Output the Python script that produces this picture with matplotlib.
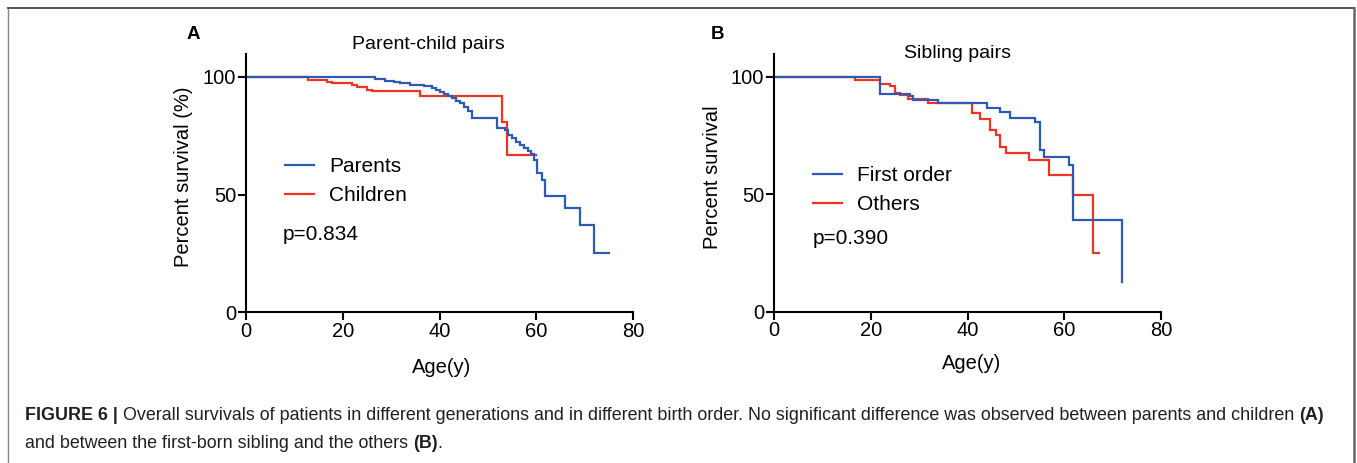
import matplotlib
matplotlib.use("Agg")
import matplotlib.pyplot as plt
from matplotlib.lines import Line2D

plt.rcParams['font.family'] = ['Liberation Sans', 'DejaVu Sans']

W, H = 1357, 463
BLUE = "#2B5BB5"
RED = "#EE3524"

# ---- Panel A: Parent-child pairs ----
parents_t = [0, 26.7, 28.8, 30.5, 31.9, 34.0, 36.7, 38.4, 39.3, 40.1, 41.0, 41.8, 42.6, 43.4,
             44.2, 45.0, 45.8, 46.7, 51.9, 53.5, 54.2, 55.0, 55.8, 56.6, 57.4, 58.2, 59.0,
             59.6, 60.2, 61.2, 61.9, 66.0, 69.0, 72.0]
parents_s = [100, 99.2, 98.5, 97.9, 97.3, 96.7, 96.0, 95.2, 94.5, 93.8, 92.9, 92.0, 91.0, 90.0,
             88.8, 87.3, 85.6, 82.6, 78.5, 77.5, 75.3, 74.0, 72.5, 71.0, 69.8, 68.3, 67.3,
             64.8, 59.1, 56.3, 49.2, 44.2, 37.1, 25.3]
parents_end = 75.0

children_t = [0, 12.9, 16.8, 17.7, 21.9, 22.9, 25.0, 26.0, 36.0, 52.9, 54.0]
children_s = [100, 98.9, 98.0, 97.3, 96.6, 95.7, 94.6, 93.9, 92.1, 80.7, 67.0]
children_end = 60.0

# ---- Panel B: Sibling pairs ----
first_t = [0, 22.0, 28.1, 28.8, 34.0, 44.0, 46.8, 48.8, 54.0, 54.9, 55.9, 60.9, 61.9, 71.9]
first_s = [100, 92.9, 91.8, 90.4, 89.0, 86.8, 85.1, 82.6, 80.9, 68.8, 66.0, 62.4, 39.0, 12.8]
first_end = 71.9

others_t = [0, 16.8, 22.0, 23.9, 25.0, 26.1, 27.8, 31.9, 40.9, 42.6, 44.7, 45.9, 46.8, 48.0,
            52.8, 56.8, 61.9, 65.9]
others_s = [100, 98.9, 97.2, 96.1, 93.2, 92.2, 90.8, 88.7, 84.7, 82.3, 77.3, 75.2, 70.2, 67.7,
            64.5, 58.2, 49.9, 25.1]
others_end = 67.1

x_ticks = [0, 20, 40, 60, 80]
y_ticks = [0, 50, 100]

fig = plt.figure(figsize=(W / 100, H / 100), dpi=100)


def px_axes(left, bottom_px, width, top_px):
    return fig.add_axes([left / W, 1 - bottom_px / H, width / W, (bottom_px - top_px) / H])


def step(ax, t, s, end, color):
    ax.plot(list(t) + [end], list(s) + [s[-1]], drawstyle='steps-post', color=color,
            lw=1.6, solid_joinstyle='miter', clip_on=False)


def style(ax):
    ax.set_xlim(0, 80)
    ax.set_ylim(0, 110)
    ax.set_xticks(x_ticks)
    ax.set_yticks(y_ticks)
    for sp in ['top', 'right']:
        ax.spines[sp].set_visible(False)
    for sp in ['left', 'bottom']:
        ax.spines[sp].set_linewidth(1.5)
    ax.tick_params(axis='both', direction='out', length=6, width=1.5, labelsize=14.5, pad=1)
    ax.patch.set_alpha(0)


axA = px_axes(246, 312, 387, 53.5)
style(axA)
step(axA, children_t, children_s, children_end, RED)
step(axA, parents_t, parents_s, parents_end, BLUE)
axA.set_ylabel("Percent survival (%)", fontsize=14.5)
axA.yaxis.set_label_coords(-0.137, 0.522)
axA.set_xlabel("Age(y)", fontsize=14.5)
axA.xaxis.set_label_coords(0.505, -0.178)
axA.text(0.47, 1.033, "Parent-child pairs", transform=axA.transAxes, ha='center', va='center', fontsize=14)
axA.text(-0.137, 1.072, "A", transform=axA.transAxes, ha='center', va='center', fontsize=13.5, fontweight='bold')
hA = [Line2D([], [], color=BLUE, lw=1.6), Line2D([], [], color=RED, lw=1.6)]
axA.legend(hA, ["Parents", "Children"], loc='upper left', bbox_to_anchor=(0.10, 0.60),
           frameon=False, fontsize=15, handlelength=1.4, handletextpad=0.75,
           borderpad=0, borderaxespad=0, labelspacing=0.5)
axA.text(0.096, 0.298, "p=0.834", transform=axA.transAxes, ha='left', va='center', fontsize=15)

axB = px_axes(774, 311.7, 387, 53.5)
style(axB)
step(axB, others_t, others_s, others_end, RED)
step(axB, first_t, first_s, first_end, BLUE)
axB.set_ylabel("Percent survival", fontsize=14.5)
axB.yaxis.set_label_coords(-0.134, 0.522)
axB.set_xlabel("Age(y)", fontsize=14.5)
axB.xaxis.set_label_coords(0.51, -0.164)
axB.text(0.475, 1.0, "Sibling pairs", transform=axB.transAxes, ha='center', va='center', fontsize=14)
axB.text(-0.145, 1.072, "B", transform=axB.transAxes, ha='center', va='center', fontsize=13.5, fontweight='bold')
hB = [Line2D([], [], color=BLUE, lw=1.6), Line2D([], [], color=RED, lw=1.6)]
axB.legend(hB, ["First order", "Others"], loc='upper left', bbox_to_anchor=(0.10, 0.564),
           frameon=False, fontsize=15, handlelength=1.4, handletextpad=0.75,
           borderpad=0, borderaxespad=0, labelspacing=0.5)
axB.text(0.10, 0.285, "p=0.390", transform=axB.transAxes, ha='left', va='center', fontsize=15)

# ---- frame ----
fig.add_artist(Line2D([8 / W, 8 / W], [0, 1 - 8 / H], color="#888888", lw=1.0))
fig.add_artist(Line2D([8 / W, 1354 / W], [1 - 8 / H, 1 - 8 / H], color="#555555", lw=1.4))
fig.add_artist(Line2D([1354 / W, 1354 / W], [0, 1 - 8 / H], color="#666666", lw=1.8))

# ---- caption ----
CAP = "#231f20"
cap_fs = 12.9
line1 = [("FIGURE 6 | ", 'bold'),
         ("Overall survivals of patients in different generations and in different birth order. "
          "No significant difference was observed between parents and children ", 'normal'),
         ("(A)", 'bold')]
line2 = [("and between the first-born sibling and the others ", 'normal'), ("(B)", 'bold'), (".", 'normal')]

fig.canvas.draw()
renderer = fig.canvas.get_renderer()


def place(pieces, x0, y0):
    x = x0
    for txt, wt in pieces:
        t = fig.text(x / W, 1 - y0 / H, txt, fontsize=cap_fs, fontweight=wt, color=CAP,
                     ha='left', va='center')
        bb = t.get_window_extent(renderer)
        x = x + bb.width


place(line1, 25, 415)
place(line2, 25, 443)

fig.savefig("out.png", dpi=100)
